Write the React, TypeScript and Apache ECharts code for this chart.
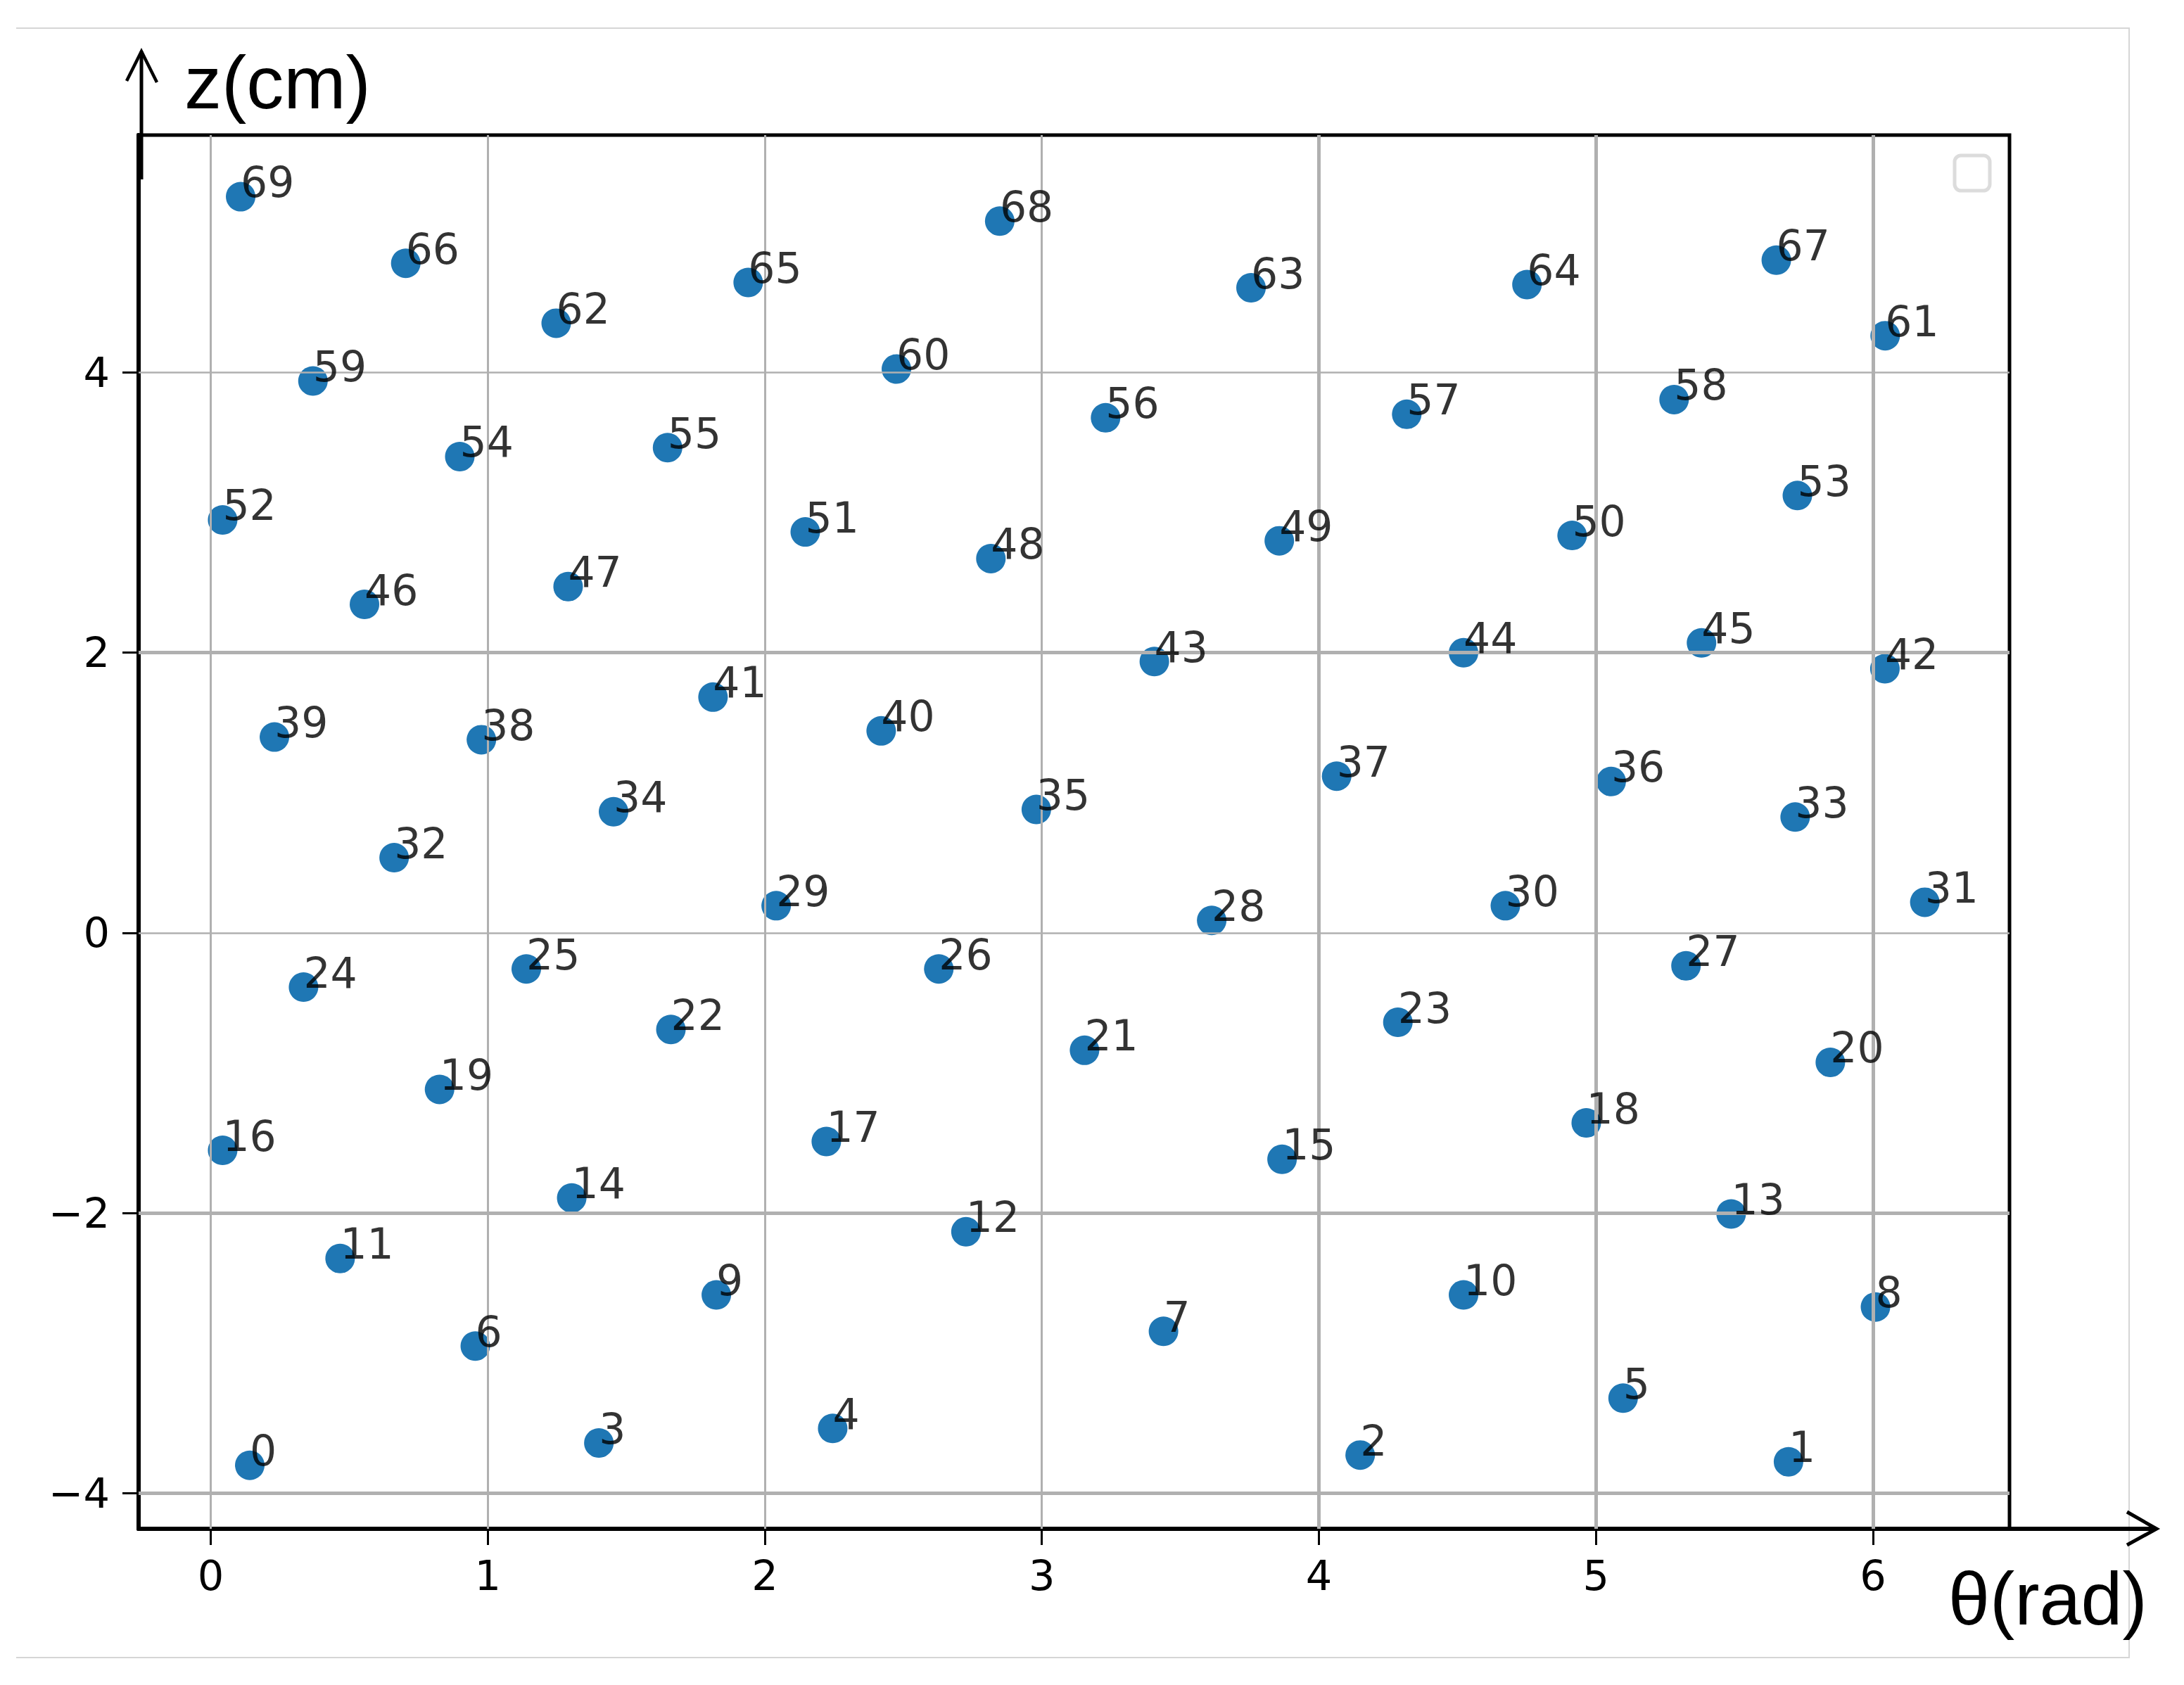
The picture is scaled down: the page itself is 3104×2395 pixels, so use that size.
import React, { useEffect, useRef } from 'react';
import * as echarts from 'echarts';

// ---- data ----
const pointIds = [
  '0', '1', '2', '3', '4', '5', '6', '7', '8', '9',
  '10', '11', '12', '13', '14', '15', '16', '17', '18', '19',
  '20', '21', '22', '23', '24', '25', '26', '27', '28', '29',
  '30', '31', '32', '33', '34', '35', '36', '37', '38', '39',
  '40', '41', '42', '43', '44', '45', '46', '47', '48', '49',
  '50', '51', '52', '53', '54', '55', '56', '57', '58', '59',
  '60', '61', '62', '63', '64', '65', '66', '67', '68', '69',
];
const thetaRad = [
  0.141, 5.695, 4.149, 1.401, 2.245, 5.098, 0.955, 3.439, 6.009, 1.825,
  4.522, 0.467, 2.726, 5.488, 1.303, 3.867, 0.043, 2.222, 4.965, 0.826,
  5.846, 3.154, 1.661, 4.285, 0.335, 1.139, 2.628, 5.325, 3.613, 2.041,
  4.673, 6.187, 0.662, 5.719, 1.454, 2.980, 5.055, 4.064, 0.977, 0.230,
  2.420, 1.813, 6.043, 3.406, 4.522, 5.381, 0.555, 1.290, 2.816, 3.857,
  4.914, 2.146, 0.043, 5.727, 0.899, 1.649, 3.230, 4.317, 5.282, 0.369,
  2.475, 6.044, 1.247, 3.755, 4.751, 1.940, 0.704, 5.651, 2.848, 0.108,
];
const zCm = [
  -3.800, -3.775, -3.727, -3.641, -3.537, -3.321, -2.949, -2.844, -2.670, -2.584,
  -2.584, -2.324, -2.133, -2.006, -1.892, -1.616, -1.552, -1.489, -1.356, -1.117,
  -0.924, -0.838, -0.689, -0.638, -0.387, -0.257, -0.257, -0.235, 0.089, 0.194,
  0.194, 0.219, 0.537, 0.827, 0.865, 0.881, 1.081, 1.119, 1.379, 1.398,
  1.442, 1.683, 1.886, 1.937, 2.000, 2.070, 2.345, 2.472, 2.672, 2.799,
  2.837, 2.862, 2.948, 3.122, 3.400, 3.464, 3.677, 3.702, 3.807, 3.940,
  4.025, 4.263, 4.352, 4.605, 4.628, 4.643, 4.780, 4.802, 5.081, 5.255,
];
const xTicks = [0, 1, 2, 3, 4, 5, 6];
const yTicks = [-4, -2, 0, 2, 4];
const xRange = [-0.2603, 6.4927];
const yRange = [-4.2536, 5.6949];
const xTitle = 'θ(rad)';
const yTitle = 'z(cm)';

// styling (grid-line widths as they appear in the resampled reference)
const xGridWidths = [3, 3, 3, 3, 5, 5, 5];
const yGridWidths = [5, 5, 2.5, 5, 2.5];

const TICK_FONT = 'DejaVu Sans';
const TITLE_FONT = 'Liberation Sans';

export default function App() {
  const ref = useRef<HTMLDivElement>(null);

  useEffect(() => {
    if (!ref.current) return;
    const chart = echarts.init(ref.current, null, { renderer: 'svg' });
    const pts = thetaRad.map((t, i) => [t, zCm[i]]);
    const gridLines = [
      ...xTicks.map((v, i) => ({ xAxis: v, lineStyle: { width: xGridWidths[i] } })),
      ...yTicks.map((v, i) => ({ yAxis: v, lineStyle: { width: yGridWidths[i] } })),
    ];
    const minus = (v: number) => String(v).replace('-', '\u2212');

    chart.setOption({
      animation: false,
      backgroundColor: '#ffffff',
      grid: {
        left: 197,
        right: 248,
        top: 192,
        bottom: 222,
        containLabel: false,
        outerBoundsMode: 'none',
        show: true,
        borderColor: '#000',
        borderWidth: 5,
        backgroundColor: 'transparent',
      },
      xAxis: {
        type: 'value',
        min: xRange[0],
        max: xRange[1],
        axisLine: { show: true, onZero: false, lineStyle: { color: '#000', width: 6 } },
        axisTick: { show: true, customValues: xTicks, length: 23, lineStyle: { color: '#000', width: 3 } },
        axisLabel: {
          show: true,
          customValues: xTicks,
          formatter: (v: number) => minus(v),
          fontSize: 59,
          fontFamily: TICK_FONT,
          color: '#000',
          margin: 37,
        },
        splitLine: { show: false },
      },
      yAxis: {
        type: 'value',
        min: yRange[0],
        max: yRange[1],
        axisLine: { show: true, onZero: false, lineStyle: { color: '#000', width: 6 } },
        axisTick: { show: true, customValues: yTicks, length: 23, lineStyle: { color: '#000', width: 3 } },
        axisLabel: {
          show: true,
          customValues: yTicks,
          formatter: (v: number) => minus(v),
          fontSize: 59,
          fontFamily: TICK_FONT,
          color: '#000',
          margin: 41,
        },
        splitLine: { show: false },
      },
      series: [
        {
          type: 'scatter',
          data: pts,
          symbol: 'circle',
          symbolSize: 42,
          itemStyle: { color: '#1f77b4', opacity: 1 },
          z: 2,
          silent: true,
          markLine: {
            silent: true,
            symbol: ['none', 'none'],
            label: { show: false },
            lineStyle: { color: '#b0b0b0', width: 3, type: 'solid' },
            emphasis: { disabled: true },
            data: gridLines,
          },
        },
        {
          type: 'scatter',
          data: pts,
          symbol: 'circle',
          symbolSize: 42,
          itemStyle: { color: 'rgba(0,0,0,0)' },
          z: 20,
          silent: true,
          label: {
            show: true,
            formatter: (p: any) => pointIds[p.dataIndex],
            position: ['50%', '50%'],
            align: 'left',
            verticalAlign: 'middle',
            offset: [0, -20.5],
            fontSize: 60,
            fontFamily: TICK_FONT,
            color: '#000',
          },
        },
      ],
      graphic: [
        {
          type: 'polyline',
          z: 50,
          silent: true,
          shape: { points: [[23, 40], [3026, 40], [3026, 2356], [23, 2356]] },
          style: { stroke: '#d6d6d6', lineWidth: 2, fill: 'none' },
        },
        {
          type: 'rect',
          z: 60,
          silent: true,
          shape: { x: 2778, y: 221, width: 50, height: 50, r: 9 },
          style: { fill: '#ffffff', stroke: '#dcdcdc', lineWidth: 5 },
        },
        {
          type: 'polyline',
          z: 60,
          silent: true,
          shape: { points: [[201, 255], [201, 73]] },
          style: { stroke: '#000', lineWidth: 5, fill: 'none' },
        },
        {
          type: 'polyline',
          z: 60,
          silent: true,
          shape: { points: [[180, 115], [201, 73], [223, 117]] },
          style: { stroke: '#000', lineWidth: 4.5, fill: 'none' },
        },
        {
          type: 'polyline',
          z: 60,
          silent: true,
          shape: { points: [[2833, 2173], [3065, 2173]] },
          style: { stroke: '#000', lineWidth: 6, fill: 'none' },
        },
        {
          type: 'polyline',
          z: 60,
          silent: true,
          shape: { points: [[3023, 2149], [3065, 2173], [3023, 2196]] },
          style: { stroke: '#000', lineWidth: 5, fill: 'none' },
        },
        {
          type: 'text',
          z: 60,
          silent: true,
          x: 262,
          y: 117,
          style: {
            text: yTitle,
            fontSize: 106,
            fontFamily: TITLE_FONT,
            fill: '#000',
            align: 'left',
            verticalAlign: 'middle',
            textAlign: 'left',
            textVerticalAlign: 'middle',
          },
        },
        {
          type: 'text',
          z: 60,
          silent: true,
          x: 2769,
          y: 2272,
          style: {
            text: xTitle,
            fontSize: 106,
            fontFamily: TITLE_FONT,
            fill: '#000',
            align: 'left',
            verticalAlign: 'middle',
            textAlign: 'left',
            textVerticalAlign: 'middle',
          },
        },
      ],
    });

    return () => chart.dispose();
  }, []);

  return (
    <div
      ref={ref}
      style={{ position: 'absolute', left: 0, top: 0, width: 3104, height: 2395, background: '#fff' }}
    />
  );
}
